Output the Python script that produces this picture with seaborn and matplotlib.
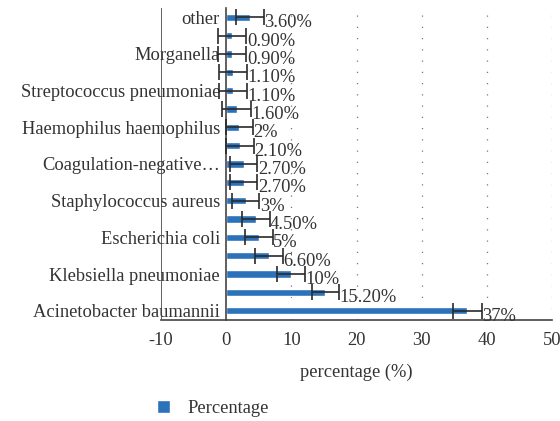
import matplotlib
matplotlib.use("Agg")
import matplotlib.pyplot as plt
import seaborn as sns
import pandas as pd
import numpy as np

# Data (bottom to top)
labels = ["Acinetobacter baumannii", "", "Klebsiella pneumoniae", "", "Escherichia coli", "",
          "Staphylococcus aureus", "", "Coagulation-negative…", "", "Haemophilus haemophilus", "",
          "Streptococcus pneumoniae", "", "Morganella", "", "other"]
values = [37, 15.2, 10, 6.6, 5, 4.5, 3, 2.7, 2.7, 2.1, 2, 1.6, 1.1, 1.1, 0.9, 0.9, 3.6]
value_text = ["37%", "15.20%", "10%", "6.60%", "5%", "4.50%", "3%", "2.70%", "2.70%", "2.10%",
              "2%", "1.60%", "1.10%", "1.10%", "0.90%", "0.90%", "3.60%"]
errors = [2.2, 2.1, 2.15, 2.15, 2.15, 2.15, 2.1, 2.1, 2.1, 2.1, 2.1, 2.2, 2.15, 2.15, 2.2, 2.2, 2.15]
xticks = [-10, 0, 10, 20, 30, 40, 50]
series_name = "Percentage"

sns.set_theme(style="white")
plt.rcParams["font.family"] = ["Liberation Serif", "DejaVu Serif"]

bar_color = "#2B72BA"
txt = "#333333"
fs = 13.3

df = pd.DataFrame({"pos": np.arange(len(values)), "value": values})

fig = plt.figure(figsize=(5.6, 4.21), dpi=100)
ax = fig.add_axes([0.2875, 0.24, 0.6985, 0.741])

sns.barplot(data=df, x="value", y="pos", orient="h", native_scale=True,
            color=bar_color, width=0.4, saturation=1, ax=ax, label=series_name,
            errorbar=None)
ax.errorbar(values, df["pos"], xerr=errors, fmt="none", ecolor="#2a2a2a",
            elinewidth=1.2, capsize=5.5, capthick=1.2, zorder=5)

for v, e, p, t in zip(values, errors, df["pos"], value_text):
    ax.annotate(t, xy=(v + e, p), xytext=(0.3, -4), textcoords="offset points",
                ha="left", va="center", fontsize=fs, color=txt)

ax.spines["left"].set_position(("data", 0))
ax.spines["left"].set_color("#444444")
ax.spines["left"].set_linewidth(1.2)
ax.spines["bottom"].set_color("#444444")
ax.spines["bottom"].set_linewidth(1.2)
ax.spines["top"].set_visible(False)
ax.spines["right"].set_visible(False)

ax.set_xlim(-10, 50)
ax.set_ylim(-0.5, 16.5)
ax.set_xticks(xticks)
ax.set_xticklabels([str(x) for x in xticks])
ax.set_yticks(df["pos"])
ax.set_yticklabels(labels)
ax.tick_params(axis="x", length=0, pad=9, labelsize=fs, labelcolor=txt)
ax.tick_params(axis="y", length=0, pad=4.5, labelsize=fs, labelcolor=txt)

for x in xticks[2:]:
    ax.axvline(x, color="#777777", linestyle=(0, (1, 8)), linewidth=0.9, zorder=0)
ax.axvline(-10, color="#444444", linewidth=1.2, zorder=1)

ax.set_xlabel("percentage (%)", fontsize=fs, color=txt, labelpad=10)
ax.set_ylabel("")

handles, lbls = ax.get_legend_handles_labels()
if ax.get_legend() is not None:
    ax.get_legend().remove()
fig.legend(handles, lbls, loc="center left", bbox_to_anchor=(0.25, 0.03),
           frameon=False, fontsize=fs, handlelength=0.75, handleheight=0.75,
           handletextpad=0.9, labelcolor=txt)

fig.savefig("out.png", dpi=100)
